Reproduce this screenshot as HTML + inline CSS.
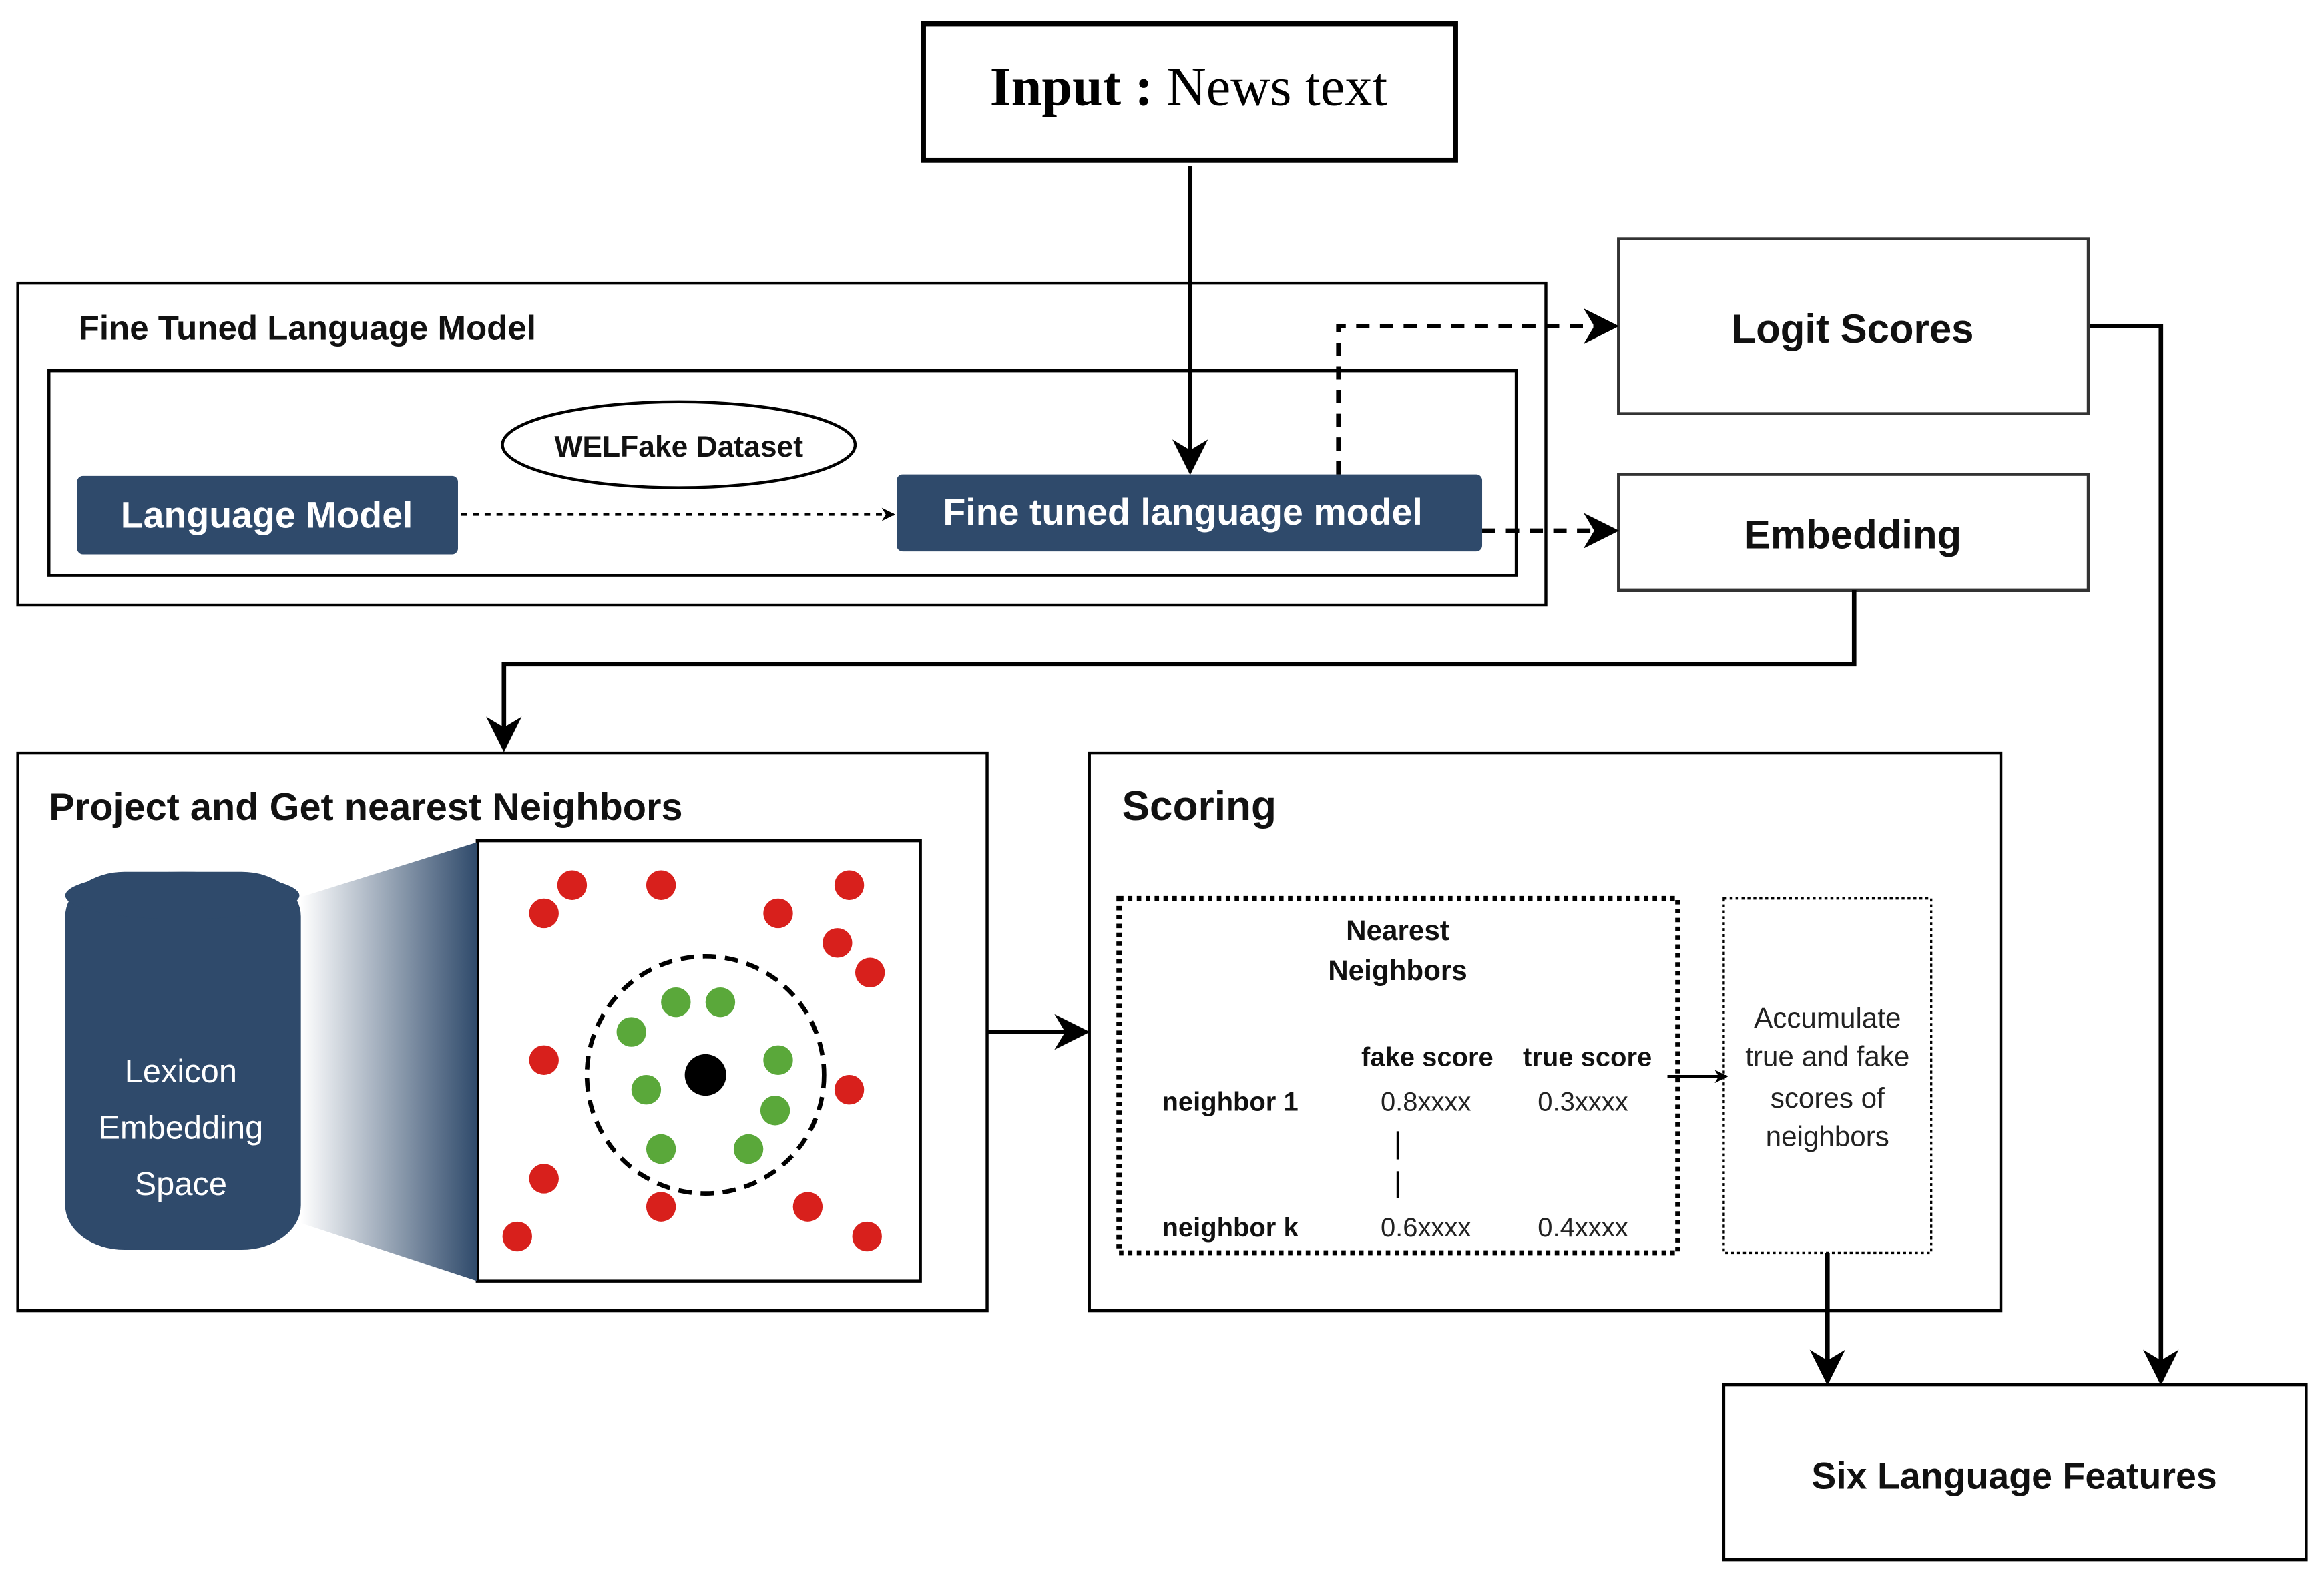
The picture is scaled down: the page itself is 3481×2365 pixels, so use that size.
<!DOCTYPE html>
<html><head><meta charset="utf-8"><style>html,body{margin:0;padding:0;background:#fff}svg{display:block}</style></head><body>
<svg width="3481" height="2365" viewBox="0 0 1568 1065" preserveAspectRatio="none" xmlns="http://www.w3.org/2000/svg" font-family="Liberation Sans, sans-serif">
<defs>
<marker id="a" viewBox="0 0 10 10" refX="9" refY="5" markerWidth="9" markerHeight="9" markerUnits="userSpaceOnUse" orient="auto"><path d="M0,0 L10,5 L0,10 L3,5 z" fill="#000"/></marker>
<marker id="b" viewBox="0 0 10 10" refX="9" refY="5" markerWidth="24" markerHeight="24" markerUnits="userSpaceOnUse" orient="auto"><path d="M0,0 L10,5 L0,10 L3,5 z" fill="#000"/></marker>
<linearGradient id="g" x1="0" x2="1"><stop offset="0" stop-color="#fff"/><stop offset="1" stop-color="#2f4a6b"/></linearGradient>
</defs>
<g fill="none" stroke="#000">
<rect x="623" y="16" width="359" height="92" stroke-width="3.5"/>
<rect x="12" y="191" width="1031" height="217" stroke-width="2"/>
<rect x="33" y="250" width="990" height="138" stroke-width="2"/>
<rect x="1092" y="161" width="317" height="118" stroke-width="2" stroke="#333"/>
<rect x="1092" y="320" width="317" height="78" stroke-width="2" stroke="#333"/>
<rect x="12" y="508" width="654" height="376" stroke-width="2"/>
<rect x="735" y="508" width="615" height="376" stroke-width="2"/>
<rect x="1163" y="934" width="393" height="118" stroke-width="2"/>
<rect x="322" y="567" width="299" height="297" stroke-width="2"/>
<rect x="755" y="606" width="377" height="239" stroke-width="3.5" stroke-dasharray="3,3"/>
<rect x="1163" y="606" width="140" height="239" stroke-width="1.5" stroke-dasharray="2,2"/>
<ellipse cx="458" cy="300" rx="119" ry="29" stroke-width="2"/>
</g>
<rect x="52" y="321" width="257" height="53" rx="4" fill="#2f4a6b"/>
<rect x="605" y="320" width="395" height="52" rx="4" fill="#2f4a6b"/>
<path d="M203,605 L322,568 L322,864 L203,825 z" fill="url(#g)"/>
<rect x="44" y="588" width="159" height="255" rx="40" ry="30" fill="#2f4a6b"/>
<ellipse cx="123" cy="604" rx="79" ry="16" fill="#2f4a6b"/>
<g fill="none" stroke="#000" stroke-width="3">
<line x1="803" y1="112" x2="803" y2="318" marker-end="url(#b)"/>
<polyline points="1410,220 1458,220 1458,932" marker-end="url(#b)"/>
<polyline points="1251,398 1251,448 340,448 340,505" marker-end="url(#b)"/>
<line x1="666" y1="696" x2="733" y2="696" marker-end="url(#b)"/>
<line x1="1233" y1="845" x2="1233" y2="932" marker-end="url(#b)"/>
<polyline points="903,320 903,220 1090,220" stroke-dasharray="9,7" marker-end="url(#b)"/>
<line x1="1000" y1="358" x2="1090" y2="358" stroke-dasharray="9,7" marker-end="url(#b)"/>
</g>
<line x1="311" y1="347" x2="603" y2="347" stroke="#000" stroke-width="1.8" stroke-dasharray="4,4" marker-end="url(#a)"/>
<line x1="1125" y1="726" x2="1165" y2="726" stroke="#000" stroke-width="2" marker-end="url(#a)"/>
<line x1="943" y1="763" x2="943" y2="782" stroke="#000" stroke-width="1.5"/>
<line x1="943" y1="790" x2="943" y2="808" stroke="#000" stroke-width="1.5"/>
<circle cx="476" cy="725" r="80" fill="none" stroke="#000" stroke-width="3" stroke-dasharray="9,6"/>
<g fill="#d8201c">
<circle cx="386" cy="597" r="10"/><circle cx="367" cy="616" r="10"/><circle cx="446" cy="597" r="10"/><circle cx="525" cy="616" r="10"/><circle cx="573" cy="597" r="10"/><circle cx="565" cy="636" r="10"/><circle cx="587" cy="656" r="10"/><circle cx="367" cy="715" r="10"/><circle cx="573" cy="735" r="10"/><circle cx="367" cy="795" r="10"/><circle cx="349" cy="834" r="10"/><circle cx="446" cy="814" r="10"/><circle cx="545" cy="814" r="10"/><circle cx="585" cy="834" r="10"/>
</g>
<g fill="#5aa83a">
<circle cx="456" cy="676" r="10"/><circle cx="486" cy="676" r="10"/><circle cx="426" cy="696" r="10"/><circle cx="436" cy="735" r="10"/><circle cx="525" cy="715" r="10"/><circle cx="523" cy="749" r="10"/><circle cx="446" cy="775" r="10"/><circle cx="505" cy="775" r="10"/>
</g>
<circle cx="476" cy="725" r="14" fill="#000"/>
<text x="802" y="71" text-anchor="middle" font-family="Liberation Serif, serif" font-size="37"><tspan font-weight="bold">Input :</tspan> News text</text>
<g font-weight="bold" fill="#111">
<text x="53" y="229" font-size="23">Fine Tuned Language Model</text>
<text x="458" y="308" font-size="20" text-anchor="middle">WELFake Dataset</text>
<text x="180" y="356" font-size="25" fill="#fff" text-anchor="middle">Language Model</text>
<text x="798" y="354" font-size="25" fill="#fff" text-anchor="middle">Fine tuned language model</text>
<text x="1250" y="231" font-size="27" text-anchor="middle">Logit Scores</text>
<text x="1250" y="370" font-size="27" text-anchor="middle">Embedding</text>
<text x="33" y="553" font-size="26">Project and Get nearest Neighbors</text>
<text x="757" y="553" font-size="28">Scoring</text>
<text x="1359" y="1004" font-size="25" text-anchor="middle">Six Language Features</text>
<text x="943" y="634" font-size="19" text-anchor="middle">Nearest</text>
<text x="943" y="661" font-size="19" text-anchor="middle">Neighbors</text>
<text x="963" y="719" font-size="18" text-anchor="middle">fake score</text>
<text x="1071" y="719" font-size="18" text-anchor="middle">true score</text>
<text x="784" y="749" font-size="18">neighbor 1</text>
<text x="784" y="834" font-size="18">neighbor k</text>
</g>
<g font-size="18" fill="#222" text-anchor="middle">
<text x="962" y="749">0.8xxxx</text><text x="1068" y="749">0.3xxxx</text>
<text x="962" y="834">0.6xxxx</text><text x="1068" y="834">0.4xxxx</text>
<text x="1233" y="693" font-size="19">Accumulate</text>
<text x="1233" y="719" font-size="19">true and fake</text>
<text x="1233" y="747" font-size="19">scores of</text>
<text x="1233" y="773" font-size="19">neighbors</text>
</g>
<g font-size="22" fill="#fff" text-anchor="middle">
<text x="122" y="730">Lexicon</text><text x="122" y="768">Embedding</text><text x="122" y="806">Space</text>
</g>
</svg>
</body></html>
